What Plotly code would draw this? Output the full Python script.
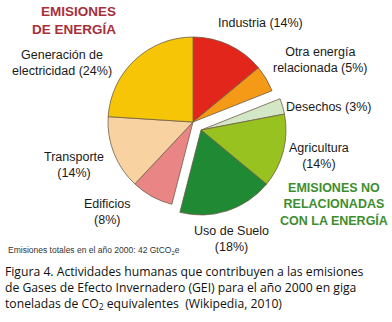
import plotly.graph_objects as go

W, H = 392, 322

# Data (clockwise from 12 o'clock)
sectors = ["Industria", "Otra energía relacionada", "Desechos", "Agricultura",
           "Uso de Suelo", "Edificios", "Transporte", "Generación de electricidad"]
shares = [14, 5, 3, 14, 18, 8, 14, 24]
group = ["energia", "energia", "no", "no", "no", "energia", "energia", "energia"]
colors = ["#E3261B", "#F49A16", "#D3E6C6", "#98C21F", "#1F8A33", "#E98584", "#F9D2A2", "#F6C506"]

label_texts = ["Industria (14%)", "Otra energía<br>relacionada (5%)", "Desechos (3%)",
               "Agricultura<br>(14%)", "Uso de Suelo<br>(18%)", "Edificios<br>(8%)",
               "Transporte<br>(14%)", "Generación de<br>electricidad (24%)"]
label_pos = [(260, 23), (320, 60), (328, 107), (319, 156), (231, 239),
             (108, 212), (74, 165), (62, 63)]

def px(x, y):
    return x / W, 1 - y / H

R = 85
def dom(cx, cy):
    return dict(x=[(cx - R) / W, (cx + R) / W], y=[1 - (cy + R) / H, 1 - (cy - R) / H])

TRANSP = "rgba(0,0,0,0)"
fig = go.Figure()
for grp, (cx, cy) in [("energia", (193, 122)), ("no", (201, 130))]:
    cols = [c if g == grp else TRANSP for c, g in zip(colors, group)]
    lw = [0.8 if g == grp else 0 for g in group]
    fig.add_trace(go.Pie(
        labels=sectors, values=shares, sort=False, direction="clockwise", rotation=0,
        marker=dict(colors=cols, line=dict(color="#6e5e4a", width=lw)),
        textinfo="none", hoverinfo="skip", showlegend=False, domain=dom(cx, cy),
    ))

FONT = "Liberation Sans"
ann = []
lab_font = dict(family=FONT, size=12.5, color="#1a1a1a")
for t, (x, y) in zip(label_texts, label_pos):
    ax, ay = px(x, y)
    ann.append(dict(text=t, x=ax, y=ay, xref="paper", yref="paper", showarrow=False,
                    xanchor="center", yanchor="middle", align="center", font=lab_font))

ax, ay = px(118, 21)
ann.append(dict(text="<b>EMISIONES<br>DE ENERGÍA</b>", x=ax, y=ay, xref="paper", yref="paper",
                showarrow=False, xanchor="right", yanchor="middle", align="right",
                font=dict(family=FONT, size=13.5, color="#A8303A")))
ax, ay = px(334, 204)
ann.append(dict(text="<b>EMISIONES NO<br>RELACIONADAS<br>CON LA ENERGÍA</b>", x=ax, y=ay,
                xref="paper", yref="paper", showarrow=False, xanchor="center", yanchor="middle",
                align="center", font=dict(family=FONT, size=12.5, color="#3E8E2E")))
ax, ay = px(6, 250)
ann.append(dict(text="Emisiones totales en el año 2000: 42 GtCO<sub>2</sub>e", x=ax, y=ay,
                xref="paper", yref="paper", showarrow=False, xanchor="left", yanchor="middle",
                font=dict(family=FONT, size=8.5, color="#333333")))
ax, ay = px(3, 288)
ann.append(dict(text="Figura 4. Actividades humanas que contribuyen a las emisiones<br>"
                     "de Gases de Efecto Invernadero (GEI) para el año 2000 en giga<br>"
                     "toneladas de CO<sub>2</sub> equivalentes  (Wikipedia, 2010)",
                x=ax, y=ay, xref="paper", yref="paper", showarrow=False, xanchor="left",
                yanchor="middle", align="left",
                font=dict(family="Open Sans", size=12.2, color="#111111")))

fig.update_layout(width=W, height=H, margin=dict(l=0, r=0, t=0, b=0),
                  paper_bgcolor="white", plot_bgcolor="white", annotations=ann)
fig.write_html("out.html", config={"displayModeBar": False},
               post_script="document.body.style.margin='0px';")
